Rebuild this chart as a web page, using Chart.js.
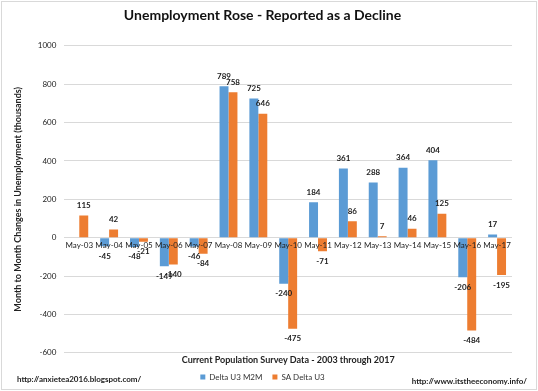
<!DOCTYPE html>
<html>
<head>
<meta charset="utf-8">
<script src="https://cdn.jsdelivr.net/npm/chart.js@4/dist/chart.umd.min.js"></script>
<style>
  html, body { margin: 0; padding: 0; background: #fff; }
  #wrap { width: 538px; height: 391px; }
</style>
</head>
<body>
<div id="wrap"><canvas id="chart" width="538" height="391"></canvas></div>
<script>
// values (thousands)
const months = ["May-03", "May-04", "May-05", "May-06", "May-07", "May-08", "May-09", "May-10",
                "May-11", "May-12", "May-13", "May-14", "May-15", "May-16", "May-17"];
const deltaU3 = [0, -45, -48, -149, -46, 789, 725, -240, 184, 361, 288, 364, 404, -206, 17];
const saDeltaU3 = [115, 42, -21, -140, -84, 758, 646, -475, -71, 86, 7, 46, 125, -484, -195];
const yTicks = [1000, 800, 600, 400, 200, 0, -200, -400, -600];

const FONT = "Lato, 'Open Sans', sans-serif";

// white background + thin frame
const frame = {
  id: 'frame',
  beforeDraw(chart) {
    const c = chart.ctx;
    c.save();
    c.fillStyle = '#fff';
    c.fillRect(0, 0, chart.width, chart.height);
    c.strokeStyle = '#d9d9d9';
    c.lineWidth = 1;
    c.strokeRect(1.5, 1.5, chart.width - 3, chart.height - 3);
    c.restore();
  }
};

// category names on the zero line, value labels, x title and the two urls
const labelsPlugin = {
  id: 'valueLabels',
  afterDraw(chart) {
    const c = chart.ctx;
    const area = chart.chartArea;
    const xs = chart.scales.x, ys = chart.scales.y;
    const zeroY = ys.getPixelForValue(0);
    c.save();
    c.fillStyle = '#222';
    c.font = '8px ' + FONT;
    c.textAlign = 'center';
    c.textBaseline = 'top';
    months.forEach((m, i) => {
      c.fillText(m, xs.getPixelForValue(i), zeroY + 4);
    });
    c.font = 'bold 8px ' + FONT;
    chart.data.datasets.forEach((ds, i) => {
      const meta = chart.getDatasetMeta(i);
      meta.data.forEach((bar, j) => {
        const v = ds.data[j];
        if (v === 0) return;
        if (v > 0) {
          c.textBaseline = 'bottom';
          c.fillText(String(v), bar.x, bar.y - 6);
        } else {
          c.textBaseline = 'top';
          c.fillText(String(v), bar.x, bar.y + 6);
        }
      });
    });
    c.font = 'bold 9px ' + FONT;
    c.textBaseline = 'middle';
    c.fillText('Current Population Survey Data - 2003 through 2017', (area.left + area.right) / 2, area.bottom + 7);
    c.font = 'bold 8px ' + FONT;
    c.textAlign = 'left';
    c.fillText('http://anxietea2016.blogspot.com/', 17, 379);
    c.textAlign = 'right';
    c.fillText('http://www.itstheeconomy.info/', 527, 381);
    c.restore();
  }
};

new Chart(document.getElementById('chart'), {
  type: 'bar',
  data: {
    labels: months,
    datasets: [{
      label: 'Delta U3 M2M',
      data: deltaU3,
      backgroundColor: '#5B9BD5',
      borderWidth: 0
    }, {
      label: 'SA Delta U3',
      data: saDeltaU3,
      backgroundColor: '#ED7D31',
      borderWidth: 0
    }]
  },
  options: {
    responsive: false,
    animation: false,
    devicePixelRatio: 1,
    layout: { padding: { left: 13, right: 26, top: 0, bottom: 0 } },
    datasets: { bar: { categoryPercentage: 0.6, barPercentage: 1.0 } },
    plugins: {
      title: {
        display: true,
        text: 'Unemployment Rose - Reported as a Decline',
        color: '#111',
        font: { family: FONT, size: 14, weight: 'bold' },
        padding: { top: 7, bottom: 22 }
      },
      legend: {
        position: 'bottom',
        title: {
          display: true,
          text: ' ',
          font: { size: 1 },
          padding: { top: 0, bottom: 9 }
        },
        labels: {
          boxWidth: 5, boxHeight: 5,
          color: '#333',
          font: { family: FONT, size: 8 },
          padding: 10
        }
      },
      tooltip: { enabled: false }
    },
    scales: {
      x: {
        position: { y: 0 },
        grid: { display: false, drawTicks: false },
        border: { display: false },
        ticks: { display: false }
      },
      y: {
        min: -600,
        max: 1000,
        afterBuildTicks(axis) { axis.ticks = yTicks.map(v => ({ value: v })); },
        grid: { color: '#d9d9d9', drawTicks: false },
        border: { display: false },
        ticks: {
          color: '#222',
          font: { family: FONT, size: 8 },
          padding: 8,
          callback: v => String(v)
        },
        title: {
          display: true,
          text: 'Month to Month Changes in Unemployment (thousands)',
          color: '#222',
          font: { family: FONT, size: 9, weight: 'bold' },
          padding: { top: 0, bottom: 6 }
        }
      }
    }
  },
  plugins: [frame, labelsPlugin]
});
</script>
</body>
</html>
